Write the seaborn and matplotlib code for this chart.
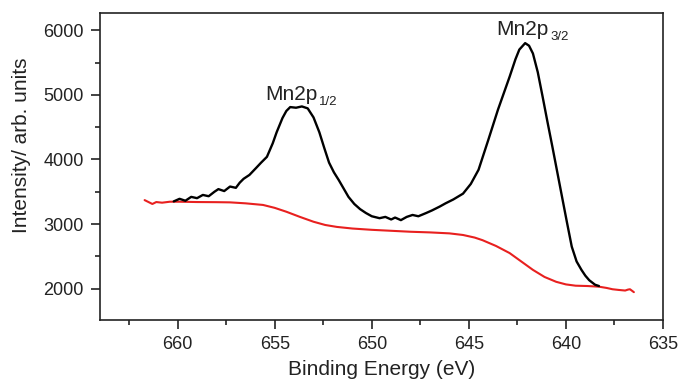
import matplotlib
matplotlib.use("Agg")
import matplotlib.pyplot as plt
import seaborn as sns
import pandas as pd
from matplotlib.ticker import MultipleLocator

# XPS Mn2p spectrum (black) and Shirley-type background (red)
be_spec = [660.2, 659.9, 659.6, 659.3, 659.0, 658.7, 658.4, 658.1, 657.9, 657.6,
           657.3, 657.0, 656.8, 656.6, 656.3, 655.95, 655.7, 655.4, 655.1, 654.9,
           654.6, 654.4, 654.2, 653.9, 653.6, 653.3, 653.0, 652.7, 652.45, 652.2,
           651.95, 651.7, 651.45, 651.2, 650.9, 650.6, 650.3, 650.0, 649.6, 649.3,
           649.0, 648.8, 648.5, 648.2, 647.9, 647.6, 647.2, 646.9, 646.5, 646.2,
           645.8, 645.3, 644.9, 644.5, 644.0, 643.5, 642.9, 642.6, 642.4, 642.1,
           641.9, 641.7, 641.45, 641.2, 640.95, 640.7, 640.45, 640.2, 639.95, 639.7,
           639.45, 639.2, 639.0, 638.8, 638.5, 638.3]
int_spec = [3350, 3390, 3360, 3420, 3400, 3450, 3430, 3500, 3540, 3510,
            3580, 3560, 3640, 3700, 3760, 3870, 3950, 4040, 4250, 4420,
            4640, 4750, 4810, 4800, 4820, 4790, 4650, 4420, 4180, 3950,
            3800, 3680, 3550, 3420, 3310, 3230, 3170, 3120, 3090, 3110,
            3070, 3100, 3060, 3110, 3140, 3120, 3170, 3210, 3270, 3320,
            3380, 3470, 3620, 3840, 4300, 4770, 5280, 5550, 5700, 5800,
            5760, 5640, 5350, 4970, 4580, 4200, 3810, 3420, 3030, 2650,
            2420, 2290, 2200, 2130, 2060, 2040]

be_bg = [661.7, 661.5, 661.3, 661.1, 660.8, 660.4, 659.9, 659.0, 658.0, 657.3,
         656.5, 655.6, 655.0, 654.4, 653.7, 653.0, 652.4, 651.8, 651.0, 650.0,
         649.0, 648.0, 647.0, 646.0, 645.3, 644.7, 644.3, 643.6, 642.9, 642.3,
         641.7, 641.1, 640.5, 640.0, 639.5, 638.9, 638.3, 637.9, 637.6, 637.3,
         636.95, 636.8, 636.7, 636.5]
int_bg = [3370, 3340, 3310, 3340, 3330, 3345, 3345, 3340, 3338, 3335,
          3320, 3295, 3250, 3190, 3110, 3035, 2985, 2955, 2930, 2910,
          2895, 2880, 2870, 2855, 2830, 2790, 2750, 2660, 2550, 2420,
          2290, 2180, 2105, 2065, 2045, 2040, 2030, 2010, 1990, 1980,
          1970, 1985, 1990, 1945]

peak_names = ["Mn2p", "Mn2p"]
peak_subs = ["1/2", "3/2"]
peak_label_pos = [(655.5, 4921), (643.6, 5927)]

spec = pd.DataFrame({"be": be_spec, "intensity": int_spec})
bg = pd.DataFrame({"be": be_bg, "intensity": int_bg})

sns.set_style("ticks")
plt.rcParams["font.family"] = ["Liberation Sans", "DejaVu Sans"]

fig = plt.figure(figsize=(6.8, 3.85), dpi=100)
ax = fig.add_axes([0.147, 0.169, 0.828, 0.797])

sns.lineplot(data=bg, x="be", y="intensity", sort=False, color="#e8201f", lw=1.5, ax=ax)
sns.lineplot(data=spec, x="be", y="intensity", sort=False, color="black", lw=1.7, ax=ax)

ax.set_xlim(664, 635)
ax.set_ylim(1515, 6265)
ax.xaxis.set_major_locator(MultipleLocator(5))
ax.xaxis.set_minor_locator(MultipleLocator(2.5))
ax.yaxis.set_major_locator(MultipleLocator(1000))
ax.yaxis.set_minor_locator(MultipleLocator(500))
ax.tick_params(which="both", direction="out", top=False, right=False, width=1.2,
               labelsize=13, colors="#222222", pad=5)
ax.tick_params(which="major", length=6.5)
ax.tick_params(which="minor", length=3.5)
for s in ax.spines.values():
    s.set_linewidth(1.2)
    s.set_color("#222222")

ax.set_xlabel("Binding Energy (eV)", fontsize=15, color="#222222", labelpad=5)
ax.set_ylabel("Intensity/ arb. units", fontsize=15, color="#222222")
ax.yaxis.set_label_coords(-0.123, 0.57)

# peak labels with small, lowered subscripts
for name, sub, (x, y) in zip(peak_names, peak_subs, peak_label_pos):
    t = ax.text(x, y, name, fontsize=15, color="#222222")
    ax.annotate(sub, xy=(1, 0), xycoords=t, xytext=(1.5, -0.5), textcoords="offset points",
                fontsize=9.5, color="#222222", va="baseline", ha="left")

fig.savefig("out.png", dpi=100)
